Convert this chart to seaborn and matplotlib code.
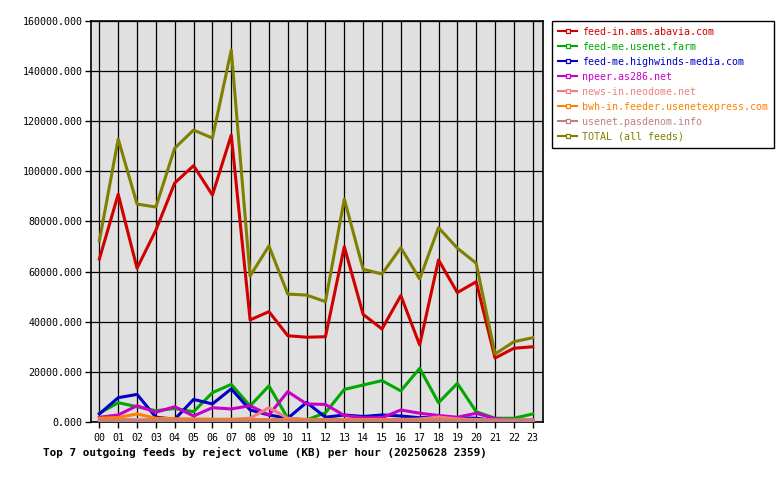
import pandas as pd
import matplotlib
matplotlib.use("Agg")
import matplotlib.pyplot as plt
from matplotlib.lines import Line2D
from matplotlib.ticker import FormatStrFormatter
import seaborn as sns

# Hourly reject volume (KB) per feed
hours = list(range(24))
hour_labels = ["%02d" % h for h in hours]

feed_names = [
    "feed-in.ams.abavia.com",
    "feed-me.usenet.farm",
    "feed-me.highwinds-media.com",
    "npeer.as286.net",
    "news-in.neodome.net",
    "bwh-in.feeder.usenetexpress.com",
    "usenet.pasdenom.info",
    "TOTAL (all feeds)",
]
feed_colors = ["#d00000", "#00a800", "#0000c8", "#c800c8",
               "#f08080", "#ff8000", "#c08080", "#808000"]

abavia = [65000, 90800, 61300, 76500, 95300, 102200, 90500, 114400, 40700, 44000, 34400, 33800,
          34000, 69900, 42900, 37100, 50400, 30700, 64600, 51600, 55900, 25500, 29400, 30000]
usenet_farm = [3500, 7700, 6100, 4500, 5400, 4100, 11700, 15000, 6400, 14400, 1500, 800,
               3700, 13000, 14750, 16500, 12400, 21400, 7700, 15400, 4100, 1500, 1500, 3200]
highwinds = [3200, 9700, 11000, 1900, 1100, 9000, 7200, 13200, 4800, 2800, 1500, 7800,
             1900, 2800, 2200, 2800, 2400, 1700, 2100, 1700, 1500, 500, 300, 300]
npeer = [1900, 2800, 6500, 3900, 6100, 2400, 5700, 5200, 6500, 2800, 12100, 7200,
         7000, 2600, 1700, 1700, 4800, 3500, 2600, 1900, 3500, 1300, 800, 800]
neodome = [1000, 1000, 1000, 1000, 1000, 1000, 1000, 1000, 1500, 5700, 1500, 1000,
           1000, 1000, 1000, 1000, 1000, 1200, 2000, 1200, 1000, 800, 800, 800]
usenetexpress = [1500, 1800, 3200, 1500, 1300, 1200, 1100, 1100, 1000, 1000, 1000, 1000,
                 1000, 1000, 1000, 1000, 900, 900, 800, 800, 700, 600, 600, 600]
pasdenom = [700, 700, 700, 700, 700, 700, 700, 700, 700, 700, 700, 700,
            700, 700, 700, 700, 700, 700, 700, 700, 700, 700, 700, 700]
total = [72200, 112800, 86900, 85700, 109200, 116400, 113200, 148300, 58200, 70200, 51000, 50600,
         48000, 88900, 60900, 59000, 69500, 57000, 77500, 69300, 63300, 27100, 32000, 33600]

series = [abavia, usenet_farm, highwinds, npeer, neodome, usenetexpress, pasdenom, total]

rows = []
for name, vals in zip(feed_names, series):
    for h, v in zip(hours, vals):
        rows.append({"feed": name, "hour": h, "kb": v})
df = pd.DataFrame(rows)

mono = "DejaVu Sans Mono"
plt.rcParams["font.family"] = mono
plt.rcParams["font.size"] = 7.2

fig = plt.figure(figsize=(7.8, 4.8), dpi=100)
ax = fig.add_axes([90.7 / 780, 1 - 422 / 480, 452 / 780, 401.3 / 480])
ax.set_facecolor("#e0e0e0")

sns.lineplot(data=df, x="hour", y="kb", hue="feed", hue_order=feed_names,
             palette=dict(zip(feed_names, feed_colors)), linewidth=2.2,
             legend=False, ax=ax, zorder=3)

ax.set_xlim(-0.46, 23.53)
ax.set_ylim(0, 160000)
ax.set_xticks(hours)
ax.set_xticklabels(hour_labels)
ax.set_yticks(range(0, 160001, 20000))
ax.yaxis.set_major_formatter(FormatStrFormatter("%.3f"))
ax.grid(True, color="black", linewidth=0.9, zorder=1)
ax.set_axisbelow(True)
ax.tick_params(axis="both", length=4, width=1, color="black", labelsize=7.2, pad=2)
ax.tick_params(axis="x", pad=4)
for s in ax.spines.values():
    s.set_color("black")
    s.set_linewidth(1.2)
ax.set_xlabel("")
ax.set_ylabel("")

fig.text(43 / 780, 1 - 452 / 480,
         "Top 7 outgoing feeds by reject volume (KB) per hour (20250628 2359)",
         fontsize=7.9, fontweight="bold", family=mono, ha="left", va="center")

handles = [Line2D([0], [0], color=c, linewidth=1.5, marker="s", markersize=3.5,
                  markerfacecolor="white", markeredgecolor=c, markeredgewidth=0.9)
           for c in feed_colors]
leg = fig.legend(handles, feed_names, loc="upper left",
                 bbox_to_anchor=(552 / 780, 1 - 20.7 / 480),
                 fancybox=False, framealpha=1, edgecolor="black",
                 handlelength=1.9, handletextpad=0.5, labelspacing=0.5,
                 borderpad=0.6, borderaxespad=0, prop={"family": mono, "size": 7.2})
leg.get_frame().set_linewidth(1.0)
for txt, c in zip(leg.get_texts(), feed_colors):
    txt.set_color(c)

fig.savefig("out.png", dpi=100)
